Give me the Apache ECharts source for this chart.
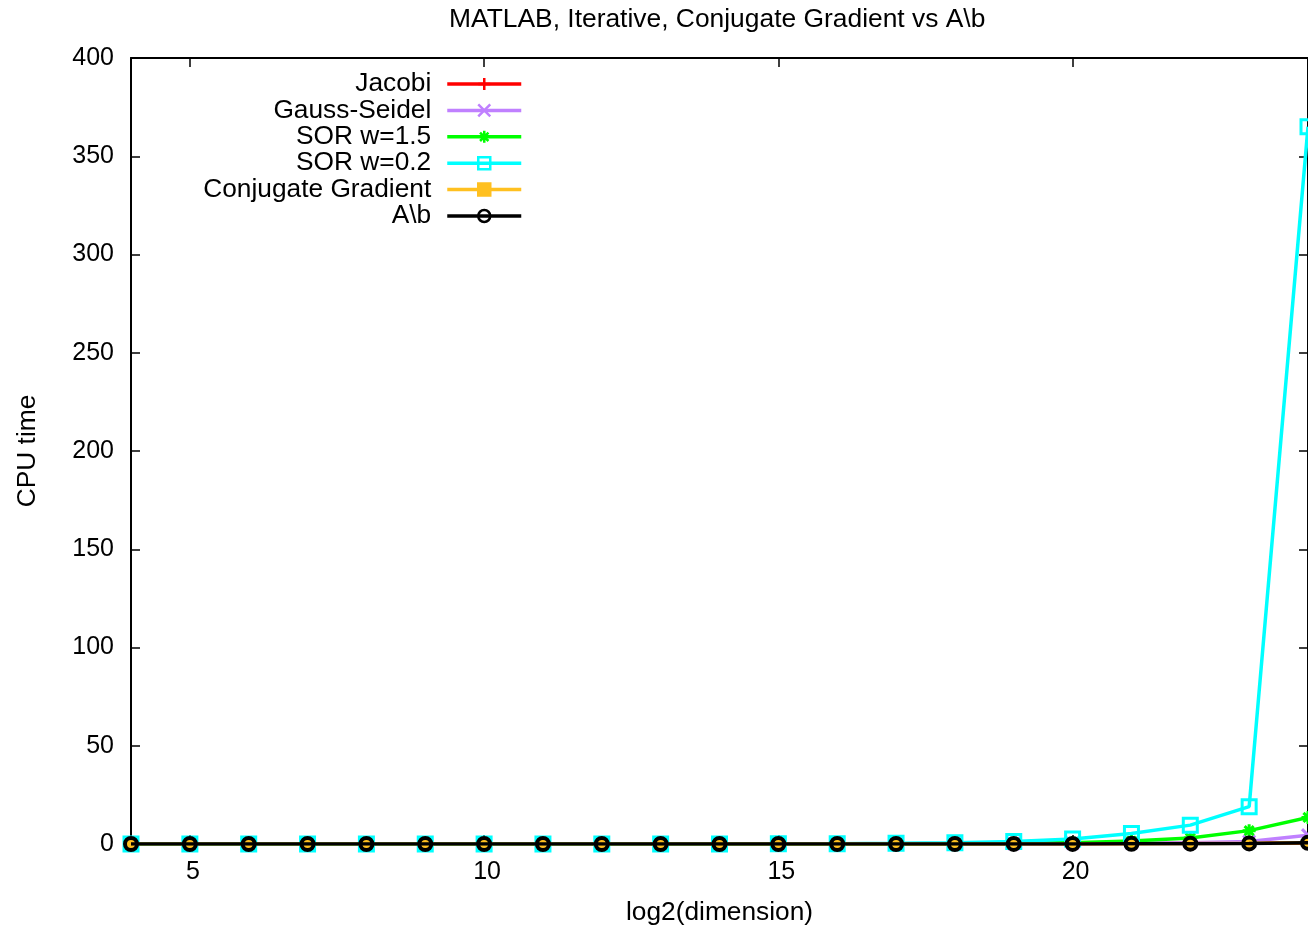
<!DOCTYPE html>
<html>
<head>
<meta charset="utf-8">
<title>MATLAB, Iterative, Conjugate Gradient vs A\b</title>
<script src="https://cdn.jsdelivr.net/npm/echarts@6/dist/echarts.min.js"></script>
<style>
  html, body { margin: 0; padding: 0; background: #fff; }
  #chart { width: 1308px; height: 931px; }
</style>
</head>
<body>
<div id="chart"></div>
<script>
// log2 of the problem dimension
const dims = [4, 5, 6, 7, 8, 9, 10, 11, 12, 13, 14, 15, 16, 17, 18, 19, 20, 21, 22, 23, 24];

// CPU time (seconds) per solver
const jacobi = [0.0001, 0.0001, 0.0002, 0.0002, 0.0003, 0.0005, 0.0008, 0.0014, 0.0025, 0.004, 0.007, 0.012, 0.02, 0.035, 0.06, 0.1, 0.16, 0.25, 0.35, 0.45, 0.55];
const gaussSeidel = [0.0001, 0.0001, 0.0002, 0.0003, 0.0004, 0.0006, 0.001, 0.0018, 0.003, 0.005, 0.009, 0.016, 0.03, 0.06, 0.1, 0.17, 0.3, 0.45, 0.65, 1.3, 4.5];
const sor15 = [0.0001, 0.0001, 0.0002, 0.0002, 0.0003, 0.0005, 0.0008, 0.0013, 0.002, 0.004, 0.007, 0.012, 0.025, 0.05, 0.15, 0.3, 0.7, 1.5, 3.1, 6.8, 13.5];
const sor02 = [0.0002, 0.0003, 0.0005, 0.0008, 0.0014, 0.0025, 0.0045, 0.008, 0.015, 0.028, 0.05, 0.09, 0.17, 0.32, 0.6, 1.3, 2.6, 5.3, 9.6, 19.0, 365];
const conjGrad = [0.0002, 0.0002, 0.0002, 0.0003, 0.0003, 0.0004, 0.0005, 0.0007, 0.001, 0.0015, 0.0025, 0.004, 0.007, 0.012, 0.02, 0.04, 0.07, 0.12, 0.2, 0.35, 0.6];
const backslash = [0.0001, 0.0001, 0.0001, 0.0001, 0.0002, 0.0002, 0.0003, 0.0004, 0.0006, 0.0009, 0.0014, 0.0022, 0.0035, 0.006, 0.01, 0.02, 0.04, 0.08, 0.16, 0.3, 0.6];

const seriesNames = ['Jacobi', 'Gauss-Seidel', 'SOR w=1.5', 'SOR w=0.2', 'Conjugate Gradient', 'A\\b'];
const xTicks = [5, 10, 15, 20];

const FONT = "'Liberation Sans', Arial, sans-serif";

// point markers in the style of gnuplot point types
const PLUS = 'path://M0,5L10,5M5,0L5,10';
const CROSS = 'path://M0,0L10,10M10,0L0,10';
const STAR = 'path://M0,5L10,5M5,0L5,10M1.5,1.5L8.5,8.5M8.5,1.5L1.5,8.5';

function pairs(ys) {
  return dims.map((x, i) => [x, ys[i]]);
}

// each later series is stacked above the earlier ones (line and markers together)
function lineSeries(idx, ys, color, symbol, size, filled, border) {
  return {
    name: seriesNames[idx],
    type: 'line',
    z: 2 + idx,
    xAxisIndex: 0,
    yAxisIndex: 0,
    data: pairs(ys),
    symbol: symbol,
    symbolSize: size,
    showSymbol: true,
    showAllSymbol: true,
    animation: false,
    lineStyle: { color: color, width: 3.5 },
    itemStyle: filled
      ? { color: color, borderColor: color, borderWidth: 0 }
      : { color: 'rgba(0,0,0,0)', borderColor: color, borderWidth: border },
    emphasis: { disabled: true }
  };
}

const series = [
  lineSeries(0, jacobi, '#ff0000', PLUS, 13, false, 3),
  lineSeries(1, gaussSeidel, '#c080ff', CROSS, 12, false, 3),
  lineSeries(2, sor15, '#00ff00', STAR, 13, false, 3),
  lineSeries(3, sor02, '#00ffff', 'rect', 14, false, 3),
  lineSeries(4, conjGrad, '#ffc020', 'rect', 9, true, 0),
  lineSeries(5, backslash, '#000000', 'circle', 12, false, 4)
];

const axisLine = { show: true, onZero: false, lineStyle: { color: '#000', width: 2 } };
const tickStyle = { color: '#000', width: 1.5 };

const chart = echarts.init(document.getElementById('chart'), null, { renderer: 'canvas' });
chart.setOption({
  backgroundColor: '#fff',
  animation: false,
  textStyle: { fontFamily: FONT },
  title: {
    text: 'MATLAB, Iterative, Conjugate Gradient vs A\\b',
    left: 449,
    top: 5,
    padding: 0,
    textStyle: { fontFamily: FONT, fontSize: 26.4, fontWeight: 'normal', color: '#000', lineHeight: 30 }
  },
  legend: {
    orient: 'vertical',
    right: 785,
    top: 71,
    padding: 0,
    align: 'right',
    itemWidth: 74,
    itemHeight: 15,
    itemGap: 0.4,
    selectedMode: false,
    data: seriesNames,
    lineStyle: { width: 3.5 },
    itemStyle: { borderWidth: 2.5 },
    textStyle: { fontFamily: FONT, fontSize: 26.3, color: '#000', lineHeight: 26, padding: [0, 11, 0, 0] }
  },
  grid: { left: 131, top: 58, right: -1, bottom: 87, containLabel: false },
  xAxis: [
    {
      type: 'value', position: 'bottom', min: 4, max: 24,
      name: 'log2(dimension)', nameLocation: 'middle', nameGap: 56,
      nameTextStyle: { fontFamily: FONT, fontSize: 26.3, color: '#000' },
      axisLine: axisLine,
      axisTick: { show: true, inside: true, length: 9, customValues: xTicks, lineStyle: tickStyle },
      axisLabel: { show: true, margin: 16, customValues: xTicks, fontFamily: FONT, fontSize: 25, color: '#000', padding: [0, 0, 0, 6] },
      splitLine: { show: false }
    },
    {
      type: 'value', position: 'top', min: 4, max: 24,
      axisLine: axisLine,
      axisTick: { show: true, inside: true, length: 9, customValues: xTicks, lineStyle: tickStyle },
      axisLabel: { show: false },
      splitLine: { show: false }
    }
  ],
  yAxis: [
    {
      type: 'value', position: 'left', min: 0, max: 400, interval: 50,
      name: 'CPU time', nameLocation: 'middle', nameGap: 90, nameRotate: 90,
      nameTextStyle: { fontFamily: FONT, fontSize: 26.3, color: '#000' },
      axisLine: axisLine,
      axisTick: { show: true, inside: true, length: 9, lineStyle: tickStyle },
      axisLabel: { show: true, margin: 17, fontFamily: FONT, fontSize: 25, color: '#000' },
      splitLine: { show: false }
    },
    {
      type: 'value', position: 'right', min: 0, max: 400, interval: 50,
      axisLine: axisLine,
      axisTick: { show: true, inside: true, length: 9, lineStyle: tickStyle },
      axisLabel: { show: false },
      splitLine: { show: false }
    }
  ],
  series: series
});
</script>
</body>
</html>
